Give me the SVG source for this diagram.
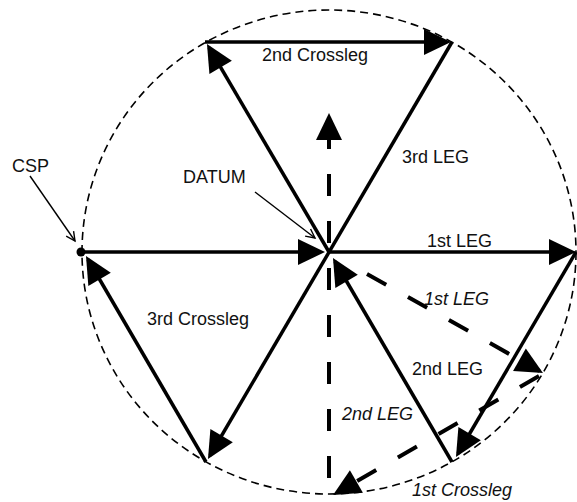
<svg xmlns="http://www.w3.org/2000/svg" width="577" height="502" viewBox="0 0 577 502">
<style>
  .lbl { font-family: "Liberation Sans", Arial, sans-serif; font-size: 18px; fill: #111; }
  .it { font-style: italic; }
  .solid { stroke: #000; stroke-width: 3.5; fill: none; }
  .bdash { stroke: #000; stroke-width: 4; fill: none; stroke-dasharray: 22 25; }
  .thin { stroke: #000; stroke-width: 1.4; fill: none; }
  .circ { stroke: #000; stroke-width: 1.6; fill: none; stroke-dasharray: 8 5; }
</style>
<defs>
  <marker id="ah" markerUnits="userSpaceOnUse" markerWidth="40" markerHeight="40" refX="0" refY="0" orient="auto" overflow="visible">
    <path d="M4,0 L-23,-13 L-23,13 Z" fill="#000"/>
  </marker>
  <marker id="open" markerUnits="userSpaceOnUse" markerWidth="20" markerHeight="20" refX="0" refY="0" orient="auto" overflow="visible">
    <path d="M-9,-4.5 L0,0 L-9,4.5" fill="none" stroke="#000" stroke-width="1.4"/>
  </marker>
</defs>
<rect width="577" height="502" fill="#fff"/>

<g id="circle">
  <ellipse class="circ" cx="329" cy="252" rx="247" ry="242"/>
</g>

<g id="connectors">
  <!-- solid legs -->
  <line class="solid" x1="84" y1="252" x2="321" y2="252" marker-end="url(#ah)"/>
  <line class="solid" x1="329" y1="252" x2="572" y2="252" marker-end="url(#ah)"/>
  <line class="solid" x1="576" y1="252" x2="458" y2="453.5" marker-end="url(#ah)"/>
  <line class="solid" x1="452" y1="462" x2="335" y2="261.5" marker-end="url(#ah)"/>
  <line class="solid" x1="329" y1="252" x2="209" y2="47.5" marker-end="url(#ah)"/>
  <line class="solid" x1="205" y1="42" x2="447" y2="42" marker-end="url(#ah)"/>
  <line class="solid" x1="452" y1="42" x2="210" y2="455.5" marker-end="url(#ah)"/>
  <line class="solid" x1="206" y1="462" x2="88" y2="259.5" marker-end="url(#ah)"/>
  <!-- bold dashed alternative legs -->
  <line class="bdash" x1="367" y1="274" x2="539.5" y2="371" marker-end="url(#ah)"/>
  <line class="bdash" x1="539" y1="376" x2="336.5" y2="493" marker-end="url(#ah)"/>
  <line class="bdash" x1="329" y1="478" x2="329" y2="117" marker-end="url(#ah)"/>
  <!-- pointers -->
  <line class="thin" x1="30" y1="176" x2="75" y2="241" marker-end="url(#open)"/>
  <line class="thin" x1="255" y1="192" x2="315" y2="238" marker-end="url(#open)"/>
</g>

<g id="csp">
  <circle cx="81" cy="252" r="4.5" fill="#000"/>
  <text class="lbl" x="12" y="172">CSP</text>
</g>
<g id="datum">
  <text class="lbl" x="183" y="183">DATUM</text>
</g>

<g id="labels">
  <text class="lbl" x="262" y="61">2nd Crossleg</text>
  <text class="lbl" x="402" y="163">3rd LEG</text>
  <text class="lbl" x="427" y="247">1st LEG</text>
  <text class="lbl" x="147" y="325">3rd Crossleg</text>
  <text class="lbl it" x="424" y="305">1st LEG</text>
  <text class="lbl" x="412" y="375">2nd LEG</text>
  <text class="lbl it" x="342" y="420">2nd LEG</text>
  <text class="lbl it" x="412" y="496">1st Crossleg</text>
</g>
</svg>
